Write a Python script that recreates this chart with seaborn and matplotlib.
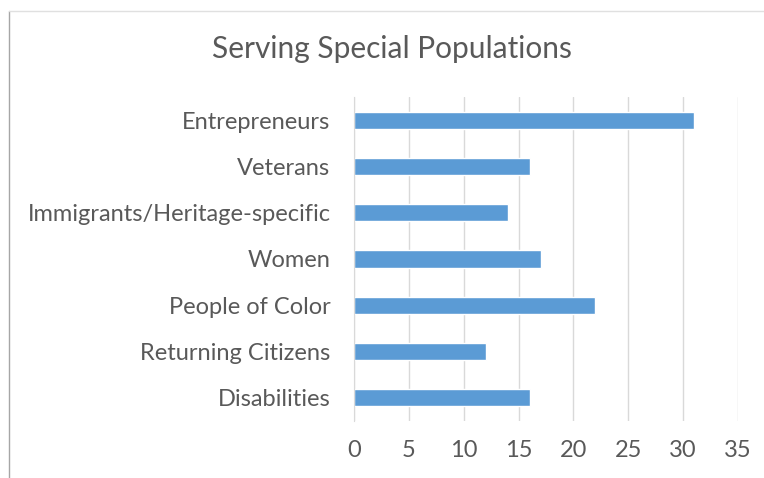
import pandas as pd
import seaborn as sns
import matplotlib.pyplot as plt
from matplotlib.lines import Line2D

categories = ['Entrepreneurs', 'Veterans', 'Immigrants/Heritage-specific', 'Women',
              'People of Color', 'Returning Citizens', 'Disabilities']
counts = [31, 16, 14, 17, 22, 12, 16]
xticks = [0, 5, 10, 15, 20, 25, 30, 35]

df = pd.DataFrame({'category': categories, 'count': counts})

sns.set_style('white')
plt.rcParams['font.family'] = ['Lato', 'DejaVu Sans']

fig = plt.figure(figsize=(7.64, 4.78), dpi=100)
ax = fig.add_axes([0.4634, 0.1192, 0.5026, 0.678])

sns.barplot(data=df, x='count', y='category', orient='h', color='#5B9BD5',
            width=0.37, saturation=1, ax=ax)

ax.set_xlim(0, 35)
ax.set_xticks(xticks)
ax.grid(axis='x', color='#D9D9D9', linewidth=1)
ax.set_axisbelow(True)
for s in ['top', 'right', 'bottom']:
    ax.spines[s].set_visible(False)
ax.spines['left'].set_color('#D9D9D9')
ax.tick_params(axis='both', length=0, labelsize=17, labelcolor='#595959')
ax.tick_params(axis='y', pad=17)
ax.tick_params(axis='x', pad=14)
ax.set_xlabel('')
ax.set_ylabel('')

fig.text(0.513, 0.897, 'Serving Special Populations', ha='center', va='center',
         fontsize=21.5, color='#595959')

# chart frame edges
fig.add_artist(Line2D([0.0118, 0.0118], [0, 0.977], color='#A6A6A6', linewidth=1))
fig.add_artist(Line2D([0.0118, 1], [0.977, 0.977], color='#E0E0E0', linewidth=1))

fig.savefig('out.png', dpi=100)
